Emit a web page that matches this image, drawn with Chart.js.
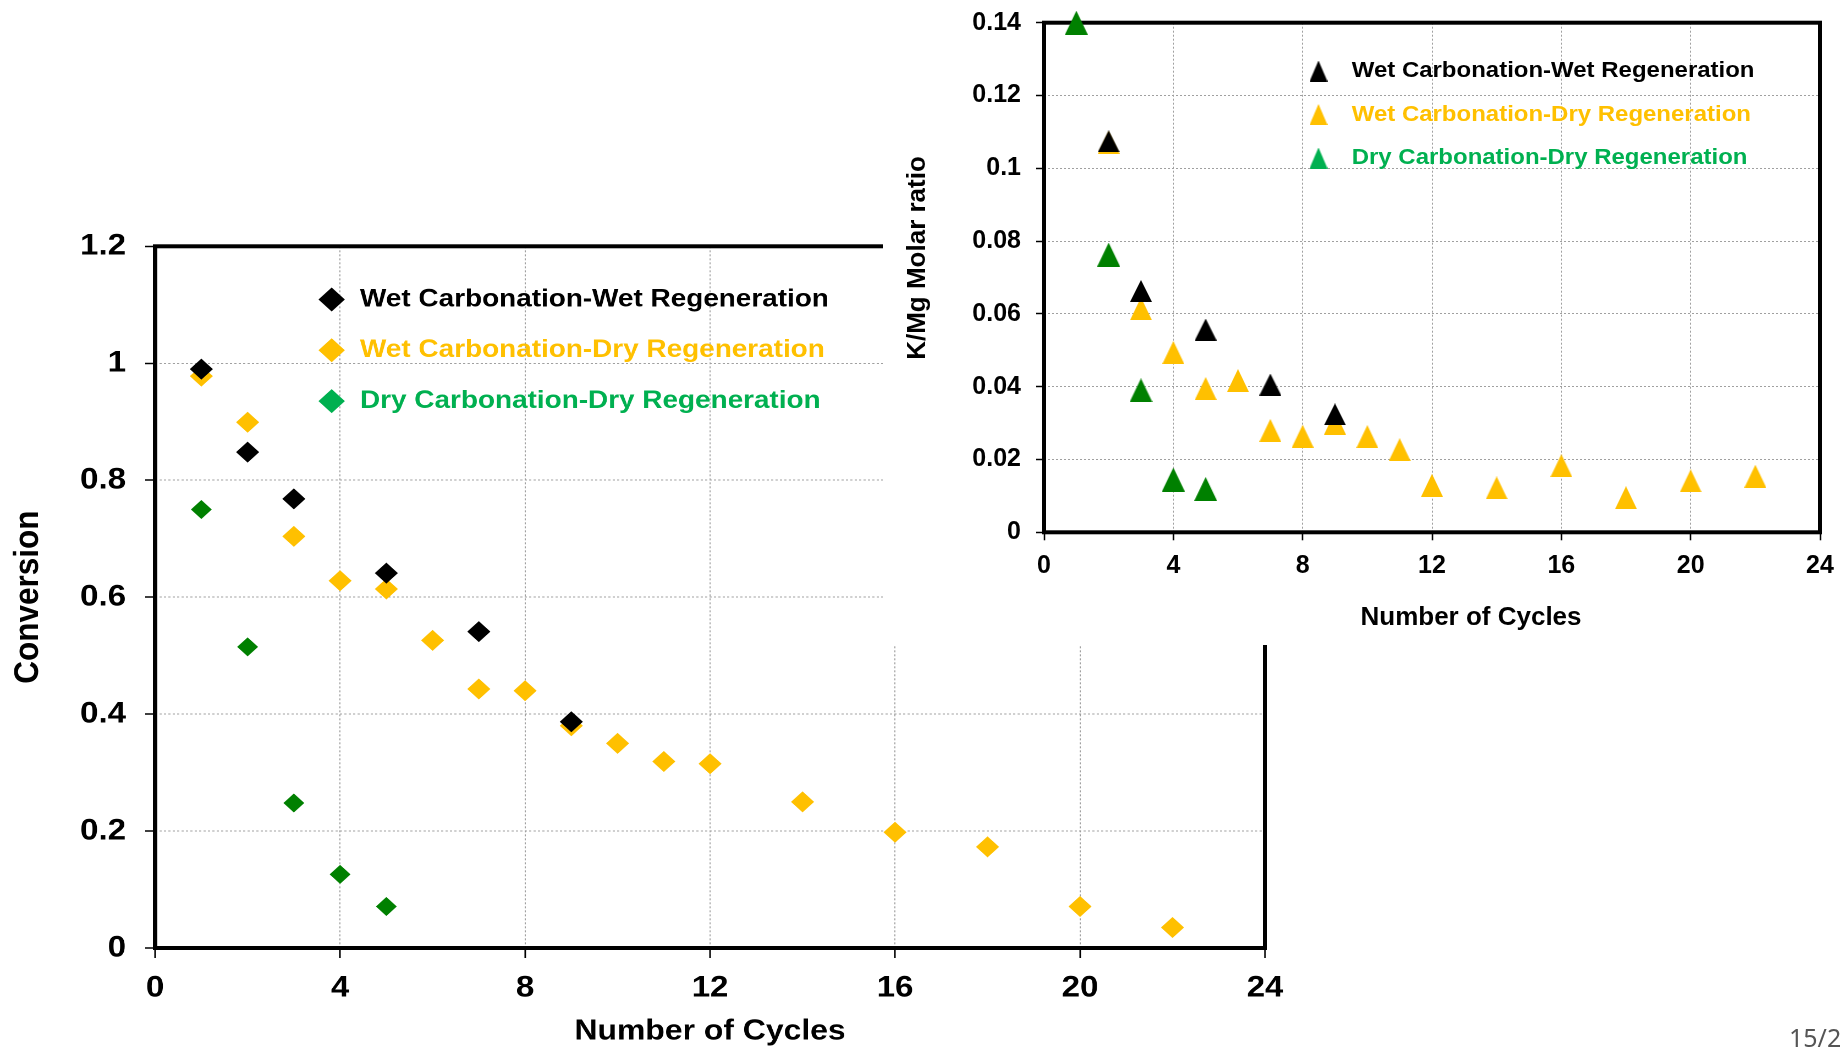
<!DOCTYPE html>
<html>
<head>
<meta charset="utf-8">
<script src="https://cdn.jsdelivr.net/npm/chart.js@4/dist/chart.umd.min.js"></script>
<style>
    html, body { margin: 0; padding: 0; background: #fff; overflow: hidden; }
    body { width: 1845px; height: 1049px; position: relative; }
    /* the conversion plot is drawn 10% wider than tall, like the slide it sits on */
    #main-wrap { position: absolute; left: 0; top: 0; width: 1677px; height: 1049px; transform: scaleX(1.1); transform-origin: 0 0; }
    #inset-wrap { position: absolute; left: 883px; top: 0; width: 962px; height: 645px; background: #fff; }
    #page-no { position: absolute; left: 1789px; top: 1025px; font: 25px/1 "Noto Sans", sans-serif; color: #555; white-space: nowrap; }
</style>
</head>
<body>
<div id="main-wrap"><canvas id="conversion-chart" width="1677" height="1049"></canvas></div>
<div id="inset-wrap"><canvas id="ratio-chart" width="962" height="645"></canvas></div>
<div id="page-no">15/2</div>
<script>
const seriesNames = [
    'Wet Carbonation-Wet Regeneration',
    'Wet Carbonation-Dry Regeneration',
    'Dry Carbonation-Dry Regeneration'
];
const markerColors = ['#000000', '#FFC000', '#008000'];
const legendColors = ['#000000', '#FFC000', '#00B050'];

// conversion per cycle
const wetWetCycles = [1, 2, 3, 5, 7, 9];
const wetWetConversion = [0.990, 0.848, 0.768, 0.641, 0.541, 0.387];
const wetDryCycles = [1, 2, 3, 4, 5, 6, 7, 8, 9, 10, 11, 12, 14, 16, 18, 20, 22];
const wetDryConversion = [0.978, 0.899, 0.704, 0.628, 0.614, 0.526, 0.443, 0.440, 0.380, 0.350, 0.319, 0.315, 0.250, 0.198, 0.173, 0.071, 0.035];
const dryDryCycles = [1, 2, 3, 4, 5];
const dryDryConversion = [0.750, 0.515, 0.248, 0.126, 0.071];

// K/Mg molar ratio per cycle
const wetWetRatioCycles = [2, 3, 5, 7, 9];
const wetWetRatio = [0.1074, 0.0663, 0.0557, 0.0406, 0.0324];
const wetDryRatioCycles = [2, 3, 4, 5, 6, 7, 8, 9, 10, 11, 12, 14, 16, 18, 20, 22];
const wetDryRatio = [0.1071, 0.0614, 0.0494, 0.0395, 0.0417, 0.0280, 0.0264, 0.0300, 0.0263, 0.0227, 0.0129, 0.0122, 0.0183, 0.0095, 0.0141, 0.0154];
const dryDryRatioCycles = [1, 2, 3, 4, 5];
const dryDryRatio = [0.1400, 0.0763, 0.0390, 0.0145, 0.0119];

const cycleTicks = [0, 4, 8, 12, 16, 20, 24];
const conversionTicks = [0, 0.2, 0.4, 0.6, 0.8, 1, 1.2];
const ratioTicks = [0, 0.02, 0.04, 0.06, 0.08, 0.1, 0.12, 0.14];

const FONT = '"Liberation Sans", Arial, sans-serif';

function points(xs, ys) {
    return xs.map((x, i) => ({ x: x, y: ys[i] }));
}

// en spaces in front of a title push it off the axis centre
function shifted(text, enSpaces) {
    return '\u2002'.repeat(enSpaces) + text;
}

function triangleMarker(color, w, h) {
    const c = document.createElement('canvas');
    c.width = w;
    c.height = h;
    const g = c.getContext('2d');
    g.fillStyle = color;
    g.beginPath();
    g.moveTo(w / 2, 0);
    g.lineTo(w, h);
    g.lineTo(0, h);
    g.closePath();
    g.fill();
    return c;
}

// black frame round the plot area, under the markers
const plotFrame = {
    id: 'plotFrame',
    beforeDatasetsDraw(chart, args, opts) {
        const { ctx, chartArea: a } = chart;
        ctx.save();
        ctx.strokeStyle = opts.color;
        ctx.lineWidth = opts.width;
        ctx.strokeRect(a.left, a.top, a.right - a.left, a.bottom - a.top);
        ctx.restore();
    }
};

// legend written inside the plot area
const insideLegend = {
    id: 'insideLegend',
    afterDatasetsDraw(chart, args, opts) {
        const ctx = chart.ctx;
        ctx.save();
        ctx.font = opts.font;
        ctx.textBaseline = 'middle';
        opts.labels.forEach((text, i) => {
            const y = opts.y + i * opts.rowGap;
            ctx.fillStyle = opts.colors[i];
            Chart.helpers.drawPoint(ctx, {
                pointStyle: opts.markers[i],
                radius: opts.radius,
                rotation: 0,
                borderWidth: 0
            }, opts.markerX, y);
            ctx.save();
            ctx.translate(opts.textX, y);
            ctx.scale(opts.stretch, 1);
            ctx.fillText(text, 0, 0);
            ctx.restore();
        });
        ctx.restore();
    }
};

function axis(opts) {
    return {
        type: 'linear',
        position: opts.position,
        min: opts.ticks[0],
        max: opts.ticks[opts.ticks.length - 1],
        afterBuildTicks: (scale) => { scale.ticks = opts.ticks.map(v => ({ value: v })); },
        afterFit: (scale) => {
            // the plot area is fixed by the layout padding alone
            scale.paddingTop = scale.paddingBottom = 0;
            scale.paddingLeft = scale.paddingRight = 0;
            if (opts.position === 'left') scale.width = opts.size;
            else scale.height = opts.size;
        },
        grid: {
            color: '#a0a0a0',
            lineWidth: 1,
            drawTicks: true,
            tickLength: opts.tickLength,
            tickColor: '#000',
            tickWidth: 1.5,
            tickBorderDash: []
        },
        border: { display: false, dash: [2, 2] },
        ticks: {
            autoSkip: false,
            maxRotation: 0,
            padding: opts.tickPadding,
            color: '#000',
            font: { family: FONT, size: opts.tickSize, weight: 'bold' },
            callback: (v) => String(v)
        },
        title: {
            display: true,
            text: opts.title,
            color: '#000',
            font: { family: FONT, size: opts.titleSize, weight: 'bold' },
            padding: opts.titlePadding
        }
    };
}

function renderConversionChart() {
    const ctx = document.getElementById('conversion-chart');
    const sets = [
        [wetWetCycles, wetWetConversion, 10.5],
        [wetDryCycles, wetDryConversion, 10.5],
        [dryDryCycles, dryDryConversion, 9.5]
    ];
    new Chart(ctx, {
        type: 'scatter',
        data: {
            datasets: sets.map((s, i) => ({
                label: seriesNames[i],
                data: points(s[0], s[1]),
                pointStyle: 'rectRot',
                pointRadius: s[2],
                backgroundColor: markerColors[i],
                borderWidth: 0,
                showLine: false,
                clip: false
            }))
        },
        options: {
            responsive: false,
            devicePixelRatio: 2,
            animation: false,
            events: [],
            layout: { padding: { left: 0, top: 246.3, right: 527, bottom: 0 } },
            scales: {
                x: axis({
                    position: 'bottom', ticks: cycleTicks, size: 101, tickLength: 10,
                    tickPadding: 12, tickSize: 30, title: 'Number of Cycles', titleSize: 29,
                    titlePadding: { top: 0, bottom: 0 }
                }),
                y: axis({
                    position: 'left', ticks: conversionTicks, size: 141, tickLength: 9,
                    tickPadding: 17.5, tickSize: 30, title: 'Conversion', titleSize: 31.5,
                    titlePadding: { top: 6.9, bottom: 0 }
                })
            },
            plugins: {
                legend: { display: false },
                tooltip: { enabled: false },
                plotFrame: { color: '#000', width: 4 },
                insideLegend: {
                    labels: seriesNames,
                    colors: legendColors,
                    markers: ['rectRot', 'rectRot', 'rectRot'],
                    radius: 12,
                    markerX: 301.5,
                    textX: 327.3,
                    y: 299.5,
                    rowGap: 50.8,
                    stretch: 1.015,
                    font: 'bold 25px ' + FONT
                }
            }
        },
        plugins: [plotFrame, insideLegend]
    });
}

function renderRatioChart() {
    const ctx = document.getElementById('ratio-chart');
    const sets = [
        [wetWetRatioCycles, wetWetRatio, 22, 22],
        [wetDryRatioCycles, wetDryRatio, 22, 23],
        [dryDryRatioCycles, dryDryRatio, 23, 24]
    ];
    new Chart(ctx, {
        type: 'scatter',
        data: {
            datasets: sets.map((s, i) => ({
                label: seriesNames[i],
                data: points(s[0], s[1]),
                pointStyle: triangleMarker(markerColors[i], s[2], s[3]),
                backgroundColor: markerColors[i],
                showLine: false,
                clip: false
            }))
        },
        options: {
            responsive: false,
            animation: false,
            events: [],
            layout: { padding: { left: 0, top: 22.7, right: 25, bottom: 0 } },
            scales: {
                x: axis({
                    position: 'bottom', ticks: cycleTicks, size: 112.7, tickLength: 8,
                    tickPadding: 11, tickSize: 25, title: shifted('Number of Cycles', 6), titleSize: 26,
                    titlePadding: { top: 0, bottom: 11.5 }
                }),
                y: axis({
                    position: 'left', ticks: ratioTicks, size: 161, tickLength: 8,
                    tickPadding: 15, tickSize: 25, title: shifted('K/Mg Molar ratio', 3), titleSize: 26,
                    titlePadding: { top: 19.4, bottom: 0 }
                })
            },
            plugins: {
                legend: { display: false },
                tooltip: { enabled: false },
                plotFrame: { color: '#000', width: 4 },
                insideLegend: {
                    labels: seriesNames,
                    colors: legendColors,
                    markers: legendColors.map(c => triangleMarker(c, 18, 21)),
                    radius: 10,
                    markerX: 435.5,
                    textX: 468.7,
                    y: 71,
                    rowGap: 43.5,
                    stretch: 1.09,
                    font: 'bold 22px ' + FONT
                }
            }
        },
        plugins: [plotFrame, insideLegend]
    });
}

document.addEventListener('DOMContentLoaded', () => {
    renderConversionChart();
    renderRatioChart();
});
</script>
</body>
</html>
